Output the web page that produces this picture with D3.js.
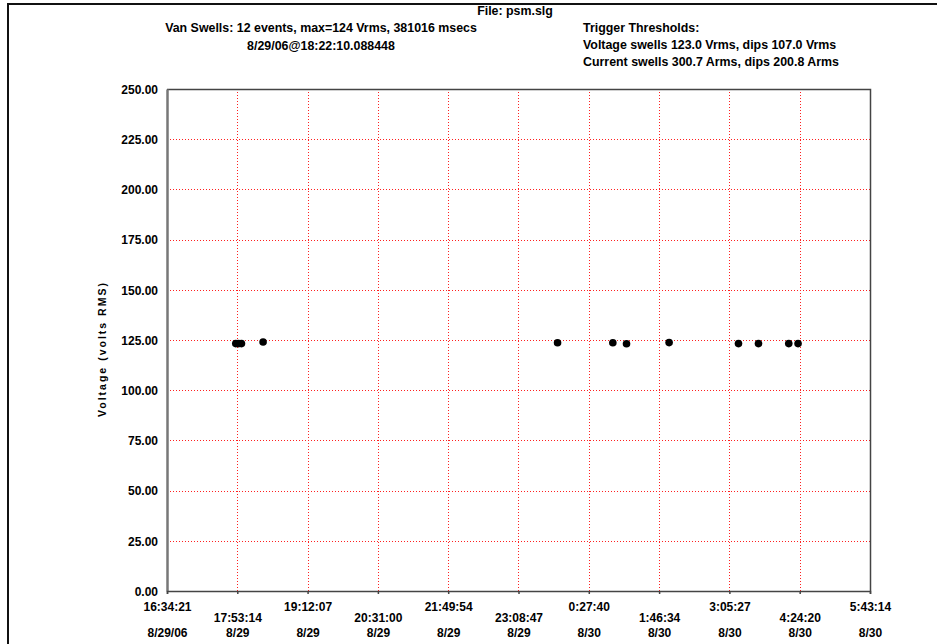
<!DOCTYPE html>
<html>
<head>
<meta charset="utf-8">
<script src="https://cdn.jsdelivr.net/npm/d3@7"></script>
<style>
  html, body { margin: 0; padding: 0; background: #fff; }
  svg { display: block; }
  text { font-family: "Liberation Sans", Arial, sans-serif; font-weight: bold; fill: #000; }
</style>
</head>
<body>
<svg id="chart" width="937" height="644"></svg>
<script>
// Swell events (date + time of day) and their RMS voltage
const eventTimes = [
  "8/29/06 17:51:31", "8/29/06 17:54:40", "8/29/06 17:57:55", "8/29/06 18:22:10",
  "8/29/06 23:52:37", "8/30/06 0:54:39", "8/30/06 1:10:01", "8/30/06 1:57:48",
  "8/30/06 3:15:39", "8/30/06 3:38:05", "8/30/06 4:12:04", "8/30/06 4:22:30"
];
const eventVolts = [123.2, 123.2, 123.2, 124.0, 123.6, 123.6, 123.1, 123.7, 123.2, 123.2, 123.2, 123.2];

// X axis ticks: time label and date label
const tickTimes = ["16:34:21", "17:53:14", "19:12:07", "20:31:00", "21:49:54", "23:08:47",
                   "0:27:40", "1:46:34", "3:05:27", "4:24:20", "5:43:14"];
const tickDates = ["8/29/06", "8/29", "8/29", "8/29", "8/29", "8/29",
                   "8/30", "8/30", "8/30", "8/30", "8/30"];
const tickDays  = ["8/29/06", "8/29/06", "8/29/06", "8/29/06", "8/29/06", "8/29/06",
                   "8/30/06", "8/30/06", "8/30/06", "8/30/06", "8/30/06"];

// Y axis ticks
const yTicks = [0, 25, 50, 75, 100, 125, 150, 175, 200, 225, 250];

const headerLeft = ["Van Swells: 12 events, max=124 Vrms, 381016 msecs", "8/29/06@18:22:10.088448"];
const headerRight = ["Trigger Thresholds:", "Voltage swells 123.0 Vrms, dips 107.0 Vrms", "Current swells 300.7 Arms, dips 200.8 Arms"];
const fileLabel = "File: psm.slg";
const yLabel = "Voltage (volts RMS)";

const parse = d3.utcParse("%m/%d/%y %H:%M:%S");
const tickValues = tickTimes.map((t, i) => parse(tickDays[i] + " " + t));
const events = eventTimes.map((t, i) => ({ t: parse(t), v: eventVolts[i] }));

const svg = d3.select("#chart");
const plot = { left: 167, right: 870, top: 89, bottom: 591 };

const x = d3.scaleUtc()
  .domain([tickValues[0], tickValues[tickValues.length - 1]])
  .range([plot.left, plot.right]);
const y = d3.scaleLinear().domain([0, 250]).range([plot.bottom, plot.top]);

// outer frame
svg.append("rect")
  .attr("x", 8).attr("y", 4).attr("width", 960).attr("height", 700)
  .attr("fill", "none").attr("stroke", "#111").attr("stroke-width", 2);

// header text
const headFont = "12.4px";
svg.append("text").attr("x", 515).attr("y", 15).attr("text-anchor", "middle")
  .style("font-size", headFont).text(fileLabel);
svg.append("text").attr("x", 321).attr("y", 32).attr("text-anchor", "middle")
  .style("font-size", headFont).text(headerLeft[0]);
svg.append("text").attr("x", 321).attr("y", 49.5).attr("text-anchor", "middle")
  .style("font-size", headFont).text(headerLeft[1]);
headerRight.forEach((s, i) => {
  svg.append("text").attr("x", 583).attr("y", 32 + i * 17.2)
    .style("font-size", headFont).text(s);
});

// grid lines
const grid = svg.append("g").attr("stroke", "#ff2020").attr("stroke-width", 1)
  .attr("stroke-dasharray", "1,2");
grid.selectAll("line.h").data(yTicks.filter(v => v > 0 && v < 250)).join("line")
  .attr("x1", plot.left).attr("x2", plot.right)
  .attr("y1", d => Math.round(y(d)) + 0.5).attr("y2", d => Math.round(y(d)) + 0.5);
grid.selectAll("line.v").data(tickValues.slice(1, -1)).join("line")
  .attr("y1", plot.top).attr("y2", plot.bottom)
  .attr("x1", d => Math.round(x(d)) + 0.5).attr("x2", d => Math.round(x(d)) + 0.5);

// plot box (top and right)
svg.append("path")
  .attr("d", `M${plot.left},${plot.top + 0.5}H${plot.right + 0.5}V${plot.bottom}`)
  .attr("fill", "none").attr("stroke", "#444").attr("stroke-width", 1.5);

// y axis
const yAxis = d3.axisLeft(y).tickValues(yTicks).tickSize(0).tickPadding(9)
  .tickFormat(d3.format(".2f"));
const gy = svg.append("g").attr("transform", `translate(${plot.left},0)`).call(yAxis);
gy.select(".domain").attr("stroke", "#777").attr("stroke-width", 2.5);
gy.selectAll("text").style("font-size", "12px").style("font-family", "Liberation Sans, Arial, sans-serif")
  .style("font-weight", "bold").attr("fill", "#000").attr("dy", "0.35em");

// x axis
const xAxis = d3.axisBottom(x).tickValues(tickValues).tickSize(3).tickFormat(() => "");
const gx = svg.append("g").attr("transform", `translate(0,${plot.bottom})`).call(xAxis);
gx.select(".domain").attr("stroke", "#444").attr("stroke-width", 1.5);
gx.selectAll(".tick line").attr("stroke", "#444").attr("stroke-width", 1.5);
gx.selectAll(".tick").each(function (d, i) {
  const g = d3.select(this);
  g.append("text").attr("y", i % 2 === 0 ? 20 : 31).attr("text-anchor", "middle")
    .style("font-size", "12px").text(tickTimes[i]);
  g.append("text").attr("y", 46).attr("text-anchor", "middle")
    .style("font-size", "12px").text(tickDates[i]);
});

// y axis title
svg.append("text")
  .attr("transform", `translate(106,350) rotate(-90)`)
  .attr("text-anchor", "middle").style("font-size", "10.5px")
  .attr("textLength", 134).attr("lengthAdjust", "spacing")
  .text(yLabel);

// event markers
svg.append("g").selectAll("circle").data(events).join("circle")
  .attr("cx", d => x(d.t)).attr("cy", d => y(d.v)).attr("r", 3.8).attr("fill", "#000");
</script>
</body>
</html>
